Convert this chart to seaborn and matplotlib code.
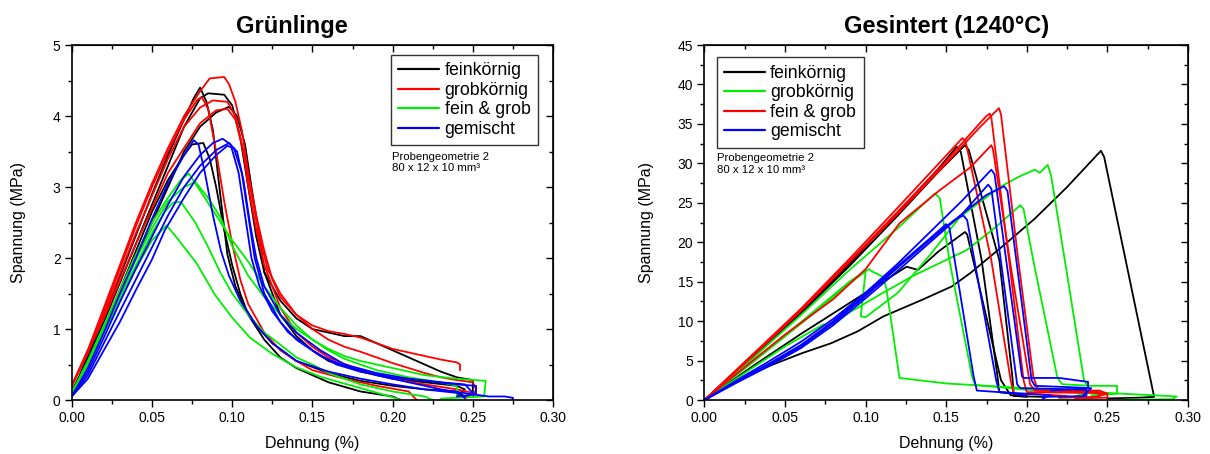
import matplotlib
matplotlib.use("Agg")
import matplotlib.pyplot as plt
import pandas as pd
import seaborn as sns
from matplotlib.ticker import MultipleLocator, FormatStrFormatter
from matplotlib.lines import Line2D

# ---------------------------------------------------------------
# Grünlinge (green bodies): strain in %, stress in MPa
# ---------------------------------------------------------------
gr_fein_1_x = [0, 0.005, 0.01, 0.02, 0.03, 0.04, 0.05, 0.06, 0.07, 0.076, 0.080, 0.084, 0.088, 0.092, 0.097, 0.102, 0.108, 0.115, 0.125, 0.14, 0.16, 0.18, 0.20, 0.22, 0.24, 0.245]
gr_fein_1_y = [0.12, 0.35, 0.62, 1.18, 1.74, 2.32, 2.90, 3.45, 3.95, 4.25, 4.40, 4.20, 3.80, 3.00, 2.05, 1.60, 1.30, 1.05, 0.80, 0.55, 0.38, 0.27, 0.20, 0.15, 0.12, 0.05]
gr_fein_2_x = [0, 0.01, 0.02, 0.04, 0.06, 0.07, 0.08, 0.085, 0.095, 0.100, 0.105, 0.110, 0.115, 0.12, 0.13, 0.14, 0.15, 0.16, 0.17, 0.18, 0.19, 0.20, 0.21, 0.22, 0.23, 0.24, 0.25, 0.25]
gr_fein_2_y = [0.10, 0.58, 1.10, 2.20, 3.30, 3.85, 4.25, 4.32, 4.30, 4.15, 3.70, 3.00, 2.30, 1.80, 1.40, 1.15, 1.00, 0.95, 0.90, 0.90, 0.80, 0.70, 0.60, 0.50, 0.40, 0.32, 0.28, 0.10]
gr_fein_3_x = [0, 0.01, 0.02, 0.04, 0.06, 0.07, 0.08, 0.09, 0.098, 0.103, 0.108, 0.112, 0.117, 0.12, 0.13, 0.14, 0.15, 0.16, 0.18, 0.20, 0.22, 0.24, 0.245, 0.24]
gr_fein_3_y = [0.10, 0.55, 1.00, 2.00, 3.00, 3.50, 3.85, 4.05, 4.13, 4.00, 3.60, 3.00, 2.30, 1.80, 1.20, 0.90, 0.70, 0.55, 0.40, 0.30, 0.25, 0.20, 0.15, 0.05]
gr_fein_4_x = [0, 0.01, 0.02, 0.04, 0.05, 0.06, 0.07, 0.075, 0.082, 0.086, 0.09, 0.095, 0.10, 0.105, 0.11, 0.12, 0.13, 0.14, 0.16, 0.18, 0.20, 0.205]
gr_fein_4_y = [0.10, 0.52, 1.00, 2.10, 2.65, 3.10, 3.45, 3.60, 3.62, 3.40, 3.00, 2.40, 1.90, 1.50, 1.20, 0.85, 0.60, 0.45, 0.25, 0.12, 0.05, 0.00]

gr_grob_1_x = [0, 0.01, 0.02, 0.03, 0.04, 0.05, 0.06, 0.07, 0.08, 0.086, 0.095, 0.098, 0.102, 0.106, 0.11, 0.115, 0.12, 0.125, 0.13, 0.14, 0.15, 0.16, 0.17, 0.18, 0.19, 0.20, 0.21, 0.22, 0.23, 0.24, 0.242, 0.242]
gr_grob_1_y = [0.20, 0.70, 1.30, 1.90, 2.50, 3.05, 3.55, 4.00, 4.35, 4.53, 4.55, 4.45, 4.20, 3.80, 3.20, 2.60, 2.10, 1.70, 1.45, 1.20, 1.05, 0.97, 0.93, 0.88, 0.80, 0.72, 0.67, 0.62, 0.57, 0.53, 0.50, 0.42]
gr_grob_2_x = [0, 0.01, 0.02, 0.03, 0.04, 0.05, 0.06, 0.07, 0.078, 0.081, 0.085, 0.09, 0.095, 0.10, 0.105, 0.11, 0.12, 0.13, 0.14, 0.15, 0.17, 0.19, 0.21, 0.215]
gr_grob_2_y = [0.20, 0.65, 1.25, 1.85, 2.45, 3.00, 3.50, 3.95, 4.22, 4.27, 4.10, 3.50, 2.80, 2.20, 1.70, 1.35, 0.95, 0.70, 0.55, 0.42, 0.30, 0.20, 0.12, 0.00]
gr_grob_3_x = [0, 0.02, 0.04, 0.06, 0.07, 0.08, 0.088, 0.097, 0.102, 0.107, 0.112, 0.117, 0.122, 0.13, 0.14, 0.15, 0.16, 0.17, 0.18, 0.19, 0.20, 0.21, 0.22, 0.23, 0.24, 0.25, 0.252, 0.25]
gr_grob_3_y = [0.20, 1.20, 2.35, 3.40, 3.85, 4.12, 4.22, 4.20, 4.00, 3.50, 2.90, 2.30, 1.85, 1.50, 1.20, 1.00, 0.85, 0.75, 0.68, 0.60, 0.52, 0.45, 0.38, 0.32, 0.28, 0.25, 0.15, 0.05]
gr_grob_4_x = [0, 0.02, 0.04, 0.06, 0.08, 0.09, 0.097, 0.102, 0.107, 0.11, 0.115, 0.12, 0.13, 0.14, 0.15, 0.16, 0.18, 0.20, 0.22, 0.24, 0.25, 0.245]
gr_grob_4_y = [0.20, 1.15, 2.20, 3.20, 3.90, 4.08, 4.10, 3.95, 3.50, 3.00, 2.40, 1.90, 1.30, 0.95, 0.75, 0.60, 0.42, 0.30, 0.22, 0.15, 0.10, 0.02]

gr_mix_1_x = [0, 0.01, 0.02, 0.03, 0.04, 0.05, 0.06, 0.068, 0.073, 0.077, 0.08, 0.09, 0.10, 0.11, 0.12, 0.13, 0.14, 0.15, 0.16, 0.17, 0.19, 0.21, 0.23, 0.24, 0.24]
gr_mix_1_y = [0.10, 0.55, 1.05, 1.55, 2.05, 2.50, 2.85, 3.10, 3.19, 3.05, 2.95, 2.60, 2.25, 1.95, 1.60, 1.30, 1.05, 0.85, 0.70, 0.58, 0.42, 0.32, 0.25, 0.20, 0.05]
gr_mix_2_x = [0, 0.01, 0.02, 0.03, 0.04, 0.05, 0.06, 0.07, 0.077, 0.085, 0.0925, 0.10, 0.11, 0.12, 0.13, 0.14, 0.15, 0.16, 0.17, 0.18, 0.20, 0.22, 0.24, 0.258, 0.257, 0.23]
gr_mix_2_y = [0.10, 0.52, 1.00, 1.50, 1.98, 2.42, 2.80, 3.00, 3.07, 2.85, 2.58, 2.17, 1.75, 1.45, 1.20, 1.00, 0.85, 0.72, 0.62, 0.55, 0.45, 0.35, 0.30, 0.27, 0.05, 0.02]
gr_mix_3_x = [0, 0.01, 0.02, 0.03, 0.04, 0.05, 0.058, 0.063, 0.068, 0.077, 0.084, 0.0925, 0.10, 0.11, 0.12, 0.13, 0.14, 0.15, 0.16, 0.18, 0.20, 0.22, 0.225]
gr_mix_3_y = [0.10, 0.50, 0.98, 1.45, 1.90, 2.35, 2.65, 2.78, 2.79, 2.50, 2.20, 1.80, 1.50, 1.20, 0.95, 0.78, 0.60, 0.50, 0.38, 0.22, 0.12, 0.05, 0.00]
gr_mix_4_x = [0, 0.01, 0.02, 0.03, 0.04, 0.05, 0.059, 0.065, 0.078, 0.089, 0.10, 0.111, 0.125, 0.14, 0.156, 0.178, 0.20, 0.205]
gr_mix_4_y = [0.10, 0.50, 0.95, 1.40, 1.85, 2.25, 2.46, 2.30, 1.92, 1.49, 1.16, 0.88, 0.65, 0.46, 0.32, 0.18, 0.04, 0.00]

gr_gem_1_x = [0, 0.01, 0.02, 0.03, 0.04, 0.05, 0.06, 0.07, 0.076, 0.079, 0.083, 0.088, 0.093, 0.098, 0.105, 0.115, 0.125, 0.14, 0.16, 0.18, 0.20, 0.22, 0.24, 0.245]
gr_gem_1_y = [0.05, 0.45, 0.95, 1.50, 2.00, 2.55, 3.05, 3.45, 3.66, 3.60, 3.20, 2.60, 2.10, 1.75, 1.40, 1.05, 0.80, 0.55, 0.40, 0.30, 0.22, 0.15, 0.10, 0.03]
gr_gem_2_x = [0, 0.01, 0.02, 0.03, 0.04, 0.05, 0.06, 0.07, 0.08, 0.088, 0.094, 0.099, 0.104, 0.108, 0.112, 0.117, 0.125, 0.135, 0.15, 0.165, 0.18, 0.20, 0.22, 0.24, 0.252, 0.252, 0.24]
gr_gem_2_y = [0.05, 0.40, 0.88, 1.38, 1.85, 2.30, 2.75, 3.15, 3.45, 3.62, 3.68, 3.60, 3.20, 2.60, 2.00, 1.60, 1.25, 0.95, 0.70, 0.50, 0.40, 0.32, 0.27, 0.22, 0.20, 0.08, 0.05]
gr_gem_3_x = [0, 0.01, 0.02, 0.03, 0.04, 0.05, 0.06, 0.07, 0.08, 0.09, 0.098, 0.103, 0.107, 0.111, 0.115, 0.12, 0.13, 0.14, 0.155, 0.17, 0.19, 0.21, 0.23, 0.245, 0.25, 0.245]
gr_gem_3_y = [0.05, 0.35, 0.80, 1.25, 1.70, 2.15, 2.60, 3.00, 3.30, 3.52, 3.62, 3.50, 3.10, 2.50, 2.00, 1.60, 1.20, 0.95, 0.70, 0.50, 0.38, 0.30, 0.25, 0.22, 0.10, 0.05]
gr_gem_4_x = [0, 0.01, 0.02, 0.03, 0.04, 0.05, 0.058, 0.07, 0.08, 0.09, 0.097, 0.101, 0.106, 0.11, 0.114, 0.12, 0.13, 0.14, 0.155, 0.17, 0.19, 0.21, 0.23, 0.25, 0.26, 0.27, 0.275, 0.275]
gr_gem_4_y = [0.05, 0.30, 0.70, 1.10, 1.55, 1.98, 2.39, 2.85, 3.20, 3.45, 3.58, 3.55, 3.20, 2.60, 2.00, 1.50, 1.10, 0.85, 0.62, 0.48, 0.35, 0.25, 0.15, 0.08, 0.05, 0.05, 0.03, 0.00]

# ---------------------------------------------------------------
# Gesintert (1240 °C): strain in %, stress in MPa
# ---------------------------------------------------------------
gs_fein_1_x = [0, 0.03, 0.06, 0.09, 0.12, 0.145, 0.1565, 0.159, 0.172, 0.1815, 0.183, 0.20]
gs_fein_1_y = [0, 5.5, 11.2, 17.3, 23.8, 29.3, 32.1, 31.5, 17.7, 3.5, 1.0, 0.6]
gs_fein_2_x = [0, 0.03, 0.06, 0.09, 0.12, 0.145, 0.1616, 0.164, 0.183, 0.191, 0.192, 0.21]
gs_fein_2_y = [0, 5.4, 11.0, 17.0, 23.4, 28.9, 32.3, 31.7, 17.7, 3.0, 0.5, 0.4]
gs_fein_3_x = [0, 0.03, 0.06, 0.09, 0.1254, 0.1325, 0.145, 0.1616, 0.163, 0.184, 0.19, 0.20]
gs_fein_3_y = [0, 4.3, 8.4, 12.3, 16.9, 16.5, 18.8, 21.3, 21.0, 2.5, 0.6, 0.4]
gs_fein_4_x = [0, 0.02, 0.04, 0.06, 0.0786, 0.095, 0.111, 0.135, 0.1535, 0.165, 0.185, 0.205, 0.225, 0.246, 0.248, 0.279, 0.27, 0.25]
gs_fein_4_y = [0, 2.4, 4.3, 5.9, 7.2, 8.7, 10.6, 12.7, 14.4, 16.1, 19.5, 23.0, 27.0, 31.6, 30.8, 0.4, 0.3, 0.2]

gs_grob_1_x = [0, 0.03, 0.06, 0.09, 0.12, 0.143, 0.146, 0.152, 0.166, 0.168, 0.20, 0.235, 0.236, 0.22]
gs_grob_1_y = [0, 5.3, 10.8, 16.5, 21.8, 26.2, 25.6, 17.7, 3.0, 1.9, 1.3, 0.9, 0.4, 0.3]
gs_grob_2_x = [0, 0.03, 0.06, 0.09, 0.102, 0.104, 0.111, 0.113, 0.121, 0.15, 0.20, 0.25, 0.293, 0.29, 0.26]
gs_grob_2_y = [0, 4.8, 9.7, 14.8, 16.6, 16.3, 15.6, 14.0, 2.8, 2.1, 1.5, 0.9, 0.45, 0.1, 0.05]
gs_grob_3_x = [0, 0.03, 0.05, 0.074, 0.076, 0.09, 0.11, 0.13, 0.1626, 0.18, 0.196, 0.198, 0.204, 0.219, 0.222, 0.24, 0.256, 0.256, 0.24]
gs_grob_3_y = [0, 4.1, 6.8, 9.6, 9.3, 11.1, 13.5, 15.8, 19.0, 21.8, 24.7, 24.2, 17.7, 2.8, 2.0, 1.8, 1.8, 0.8, 0.6]
gs_grob_4_x = [0, 0.03, 0.06, 0.09, 0.100, 0.097, 0.100, 0.12, 0.14, 0.1585, 0.1833, 0.195, 0.205, 0.208, 0.213, 0.215, 0.2236, 0.2355, 0.24, 0.23]
gs_grob_4_y = [0, 4.9, 9.9, 15.0, 16.4, 10.6, 10.5, 13.6, 18.4, 23.2, 27.0, 28.3, 29.2, 28.8, 29.8, 28.5, 17.7, 2.5, 1.0, 0.5]

gs_mix_1_x = [0, 0.03, 0.06, 0.09, 0.12, 0.15, 0.17, 0.1827, 0.184, 0.1947, 0.204, 0.207, 0.23, 0.245, 0.245, 0.22]
gs_mix_1_y = [0, 5.6, 11.3, 17.5, 23.6, 30.0, 34.4, 37.0, 36.2, 17.7, 3.0, 1.2, 1.1, 1.0, 0.4, 0.3]
gs_mix_2_x = [0, 0.03, 0.06, 0.09, 0.12, 0.15, 0.17, 0.175, 0.177, 0.178, 0.189, 0.198, 0.20, 0.24, 0.25, 0.25, 0.23]
gs_mix_2_y = [0, 5.7, 11.5, 17.6, 23.9, 30.3, 34.9, 36.0, 36.3, 35.8, 17.7, 2.5, 1.0, 0.9, 0.8, 0.3, 0.2]
gs_mix_3_x = [0, 0.03, 0.06, 0.09, 0.12, 0.145, 0.16, 0.162, 0.178, 0.19, 0.192, 0.21, 0.225]
gs_mix_3_y = [0, 5.8, 11.6, 17.9, 24.4, 29.9, 33.2, 32.8, 17.7, 2.5, 0.8, 0.7, 0.5]
gs_mix_4_x = [0, 0.03, 0.05, 0.08, 0.10, 0.121, 0.146, 0.165, 0.178, 0.179, 0.19, 0.202, 0.205, 0.245, 0.25, 0.24]
gs_mix_4_y = [0, 5.0, 8.3, 12.8, 16.6, 22.4, 26.6, 29.5, 32.3, 31.8, 17.0, 2.0, 1.2, 1.2, 0.8, 0.3]

gs_gem_1_x = [0, 0.02, 0.04, 0.06, 0.08, 0.10, 0.12, 0.14, 0.16, 0.178, 0.180, 0.197, 0.198, 0.22, 0.238, 0.238, 0.215]
gs_gem_1_y = [0, 2.4, 4.6, 7.0, 10.0, 13.6, 17.3, 21.3, 25.3, 29.2, 28.6, 3.0, 2.8, 2.8, 2.3, 1.5, 1.2]
gs_gem_2_x = [0, 0.02, 0.04, 0.06, 0.08, 0.10, 0.12, 0.14, 0.16, 0.176, 0.178, 0.194, 0.196, 0.22, 0.237, 0.237, 0.21]
gs_gem_2_y = [0, 2.2, 4.3, 6.6, 9.5, 12.9, 16.4, 20.0, 23.6, 27.3, 26.8, 2.0, 1.5, 1.4, 1.3, 0.5, 0.4]
gs_gem_3_x = [0, 0.02, 0.04, 0.06, 0.08, 0.10, 0.12, 0.14, 0.16, 0.175, 0.183, 0.186, 0.188, 0.203, 0.205, 0.23, 0.24, 0.235]
gs_gem_3_y = [0, 2.3, 4.4, 6.8, 9.8, 13.2, 16.8, 20.3, 23.6, 26.0, 26.8, 27.1, 26.5, 2.5, 1.8, 1.6, 1.5, 0.6]
gs_gem_4_x = [0, 0.02, 0.04, 0.06, 0.08, 0.10, 0.12, 0.14, 0.155, 0.1606, 0.163, 0.181, 0.183, 0.20, 0.215, 0.21]
gs_gem_4_y = [0, 2.3, 4.5, 6.9, 9.8, 13.3, 16.9, 20.4, 22.8, 23.4, 22.8, 2.5, 1.0, 0.8, 0.6, 0.2]
gs_gem_5_x = [0, 0.02, 0.04, 0.06, 0.08, 0.10, 0.12, 0.14, 0.150, 0.152, 0.167, 0.169, 0.19, 0.20]
gs_gem_5_y = [0, 2.5, 4.9, 7.4, 10.3, 13.6, 17.0, 20.5, 22.3, 21.8, 3.0, 1.2, 0.9, 0.5]

# legend labels and colours of each panel
gruen_labels = ["feinkörnig", "grobkörnig", "fein & grob", "gemischt"]
gruen_colors = ["#000000", "#ff0000", "#00ee00", "#0000ff"]
sinter_labels = ["feinkörnig", "grobkörnig", "fein & grob", "gemischt"]
sinter_colors = ["#000000", "#00ee00", "#ff0000", "#0000ff"]

gruen_curves = {
    "feinkörnig": [(gr_fein_1_x, gr_fein_1_y), (gr_fein_2_x, gr_fein_2_y), (gr_fein_3_x, gr_fein_3_y), (gr_fein_4_x, gr_fein_4_y)],
    "grobkörnig": [(gr_grob_1_x, gr_grob_1_y), (gr_grob_2_x, gr_grob_2_y), (gr_grob_3_x, gr_grob_3_y), (gr_grob_4_x, gr_grob_4_y)],
    "fein & grob": [(gr_mix_1_x, gr_mix_1_y), (gr_mix_2_x, gr_mix_2_y), (gr_mix_3_x, gr_mix_3_y), (gr_mix_4_x, gr_mix_4_y)],
    "gemischt": [(gr_gem_1_x, gr_gem_1_y), (gr_gem_2_x, gr_gem_2_y), (gr_gem_3_x, gr_gem_3_y), (gr_gem_4_x, gr_gem_4_y)],
}
sinter_curves = {
    "feinkörnig": [(gs_fein_1_x, gs_fein_1_y), (gs_fein_2_x, gs_fein_2_y), (gs_fein_3_x, gs_fein_3_y), (gs_fein_4_x, gs_fein_4_y)],
    "grobkörnig": [(gs_grob_1_x, gs_grob_1_y), (gs_grob_2_x, gs_grob_2_y), (gs_grob_3_x, gs_grob_3_y), (gs_grob_4_x, gs_grob_4_y)],
    "fein & grob": [(gs_mix_1_x, gs_mix_1_y), (gs_mix_2_x, gs_mix_2_y), (gs_mix_3_x, gs_mix_3_y), (gs_mix_4_x, gs_mix_4_y)],
    "gemischt": [(gs_gem_1_x, gs_gem_1_y), (gs_gem_2_x, gs_gem_2_y), (gs_gem_3_x, gs_gem_3_y), (gs_gem_4_x, gs_gem_4_y), (gs_gem_5_x, gs_gem_5_y)],
}


def to_frame(curves):
    rows = []
    for group, samples in curves.items():
        for k, (xs, ys) in enumerate(samples):
            for order, (x, y) in enumerate(zip(xs, ys)):
                rows.append({"group": group, "sample": f"{group}-{k}", "order": order,
                             "Dehnung": x, "Spannung": y})
    return pd.DataFrame(rows)


sns.set_style("ticks", rc={"axes.edgecolor": "black", "xtick.color": "black",
                           "ytick.color": "black", "text.color": "black",
                           "axes.labelcolor": "black"})
plt.rcParams["font.family"] = ["Liberation Sans", "DejaVu Sans"]

fig = plt.figure(figsize=(12.1, 4.54), dpi=100)
ax1 = fig.add_axes([0.0593, 0.1189, 0.3978, 0.7819])
ax2 = fig.add_axes([0.5822, 0.1189, 0.3996, 0.7819])

panels = [
    (ax1, gruen_curves, gruen_labels, gruen_colors, "Grünlinge", 0.458, 5, 1, 0.5, (0.663, 0.972), (0.6655, 0.700), -0.095),
    (ax2, sinter_curves, sinter_labels, sinter_colors, "Gesintert (1240°C)", 0.5, 45, 5, 2.5, (0.025, 0.965), (0.026, 0.695), -0.105),
]

for ax, curves, labels, colors, title, title_x, ymax, ymaj, ymin, leg_pos, note_pos, ylab_x in panels:
    df = to_frame(curves)
    palette = dict(zip(labels, colors))
    sns.lineplot(data=df, x="Dehnung", y="Spannung", hue="group", units="sample",
                 estimator=None, sort=False, palette=palette, hue_order=labels,
                 linewidth=1.3, legend=False, ax=ax)

    ax.set_xlim(0, 0.30)
    ax.set_ylim(0, ymax)
    ax.xaxis.set_major_locator(MultipleLocator(0.05))
    ax.xaxis.set_minor_locator(MultipleLocator(0.025))
    ax.xaxis.set_major_formatter(FormatStrFormatter("%.2f"))
    ax.yaxis.set_major_locator(MultipleLocator(ymaj))
    ax.yaxis.set_minor_locator(MultipleLocator(ymin))
    ax.yaxis.set_major_formatter(FormatStrFormatter("%d"))
    ax.tick_params(which="both", direction="out", labelsize=10, width=1.0, pad=3)
    ax.tick_params(which="major", length=5)
    ax.tick_params(which="minor", length=3)
    for sp in ax.spines.values():
        sp.set_linewidth(1.2)
        sp.set_visible(True)

    # mirrored ticks pointing inwards on the top and right frame
    top = ax.secondary_xaxis("top")
    top.xaxis.set_major_locator(MultipleLocator(0.05))
    top.xaxis.set_minor_locator(MultipleLocator(0.025))
    top.tick_params(which="both", direction="in", labeltop=False, width=1.0)
    top.tick_params(which="major", length=5)
    top.tick_params(which="minor", length=3)
    right = ax.secondary_yaxis("right")
    right.yaxis.set_major_locator(MultipleLocator(ymaj))
    right.yaxis.set_minor_locator(MultipleLocator(ymin))
    right.tick_params(which="both", direction="in", labelright=False, width=1.0)
    right.tick_params(which="major", length=5)
    right.tick_params(which="minor", length=3)

    ax.set_xlabel("Dehnung (%)", fontsize=11.5)
    ax.set_ylabel("Spannung (MPa)", fontsize=11.5)
    ax.xaxis.set_label_coords(0.5, -0.1)
    ax.yaxis.set_label_coords(ylab_x, 0.5)
    ax.set_title(title, x=title_x, fontsize=17, fontweight="bold", pad=9)

    handles = [Line2D([], [], color=c, lw=1.6) for c in colors]
    leg = ax.legend(handles, labels, loc="upper left", bbox_to_anchor=leg_pos,
                    borderaxespad=0, fontsize=12.8, handlelength=2.3,
                    handletextpad=0.3, labelspacing=0.14, borderpad=0.42,
                    frameon=True, fancybox=False, edgecolor="black")
    leg.get_frame().set_linewidth(1.0)
    ax.text(note_pos[0], note_pos[1], "Probengeometrie 2\n80 x 12 x 10 mm³",
            transform=ax.transAxes, ha="left", va="top", fontsize=8.2,
            linespacing=1.2)

fig.savefig("out.png", dpi=100)
